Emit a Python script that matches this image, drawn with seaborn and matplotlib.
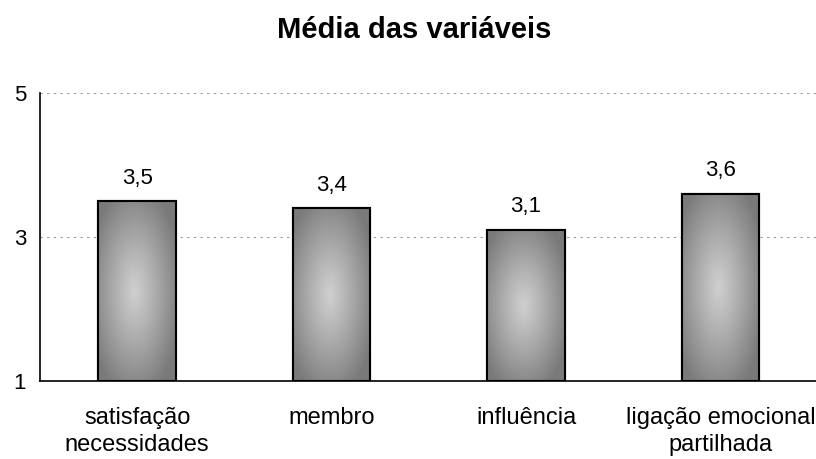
import numpy as np
import pandas as pd
import matplotlib
matplotlib.use("Agg")
import matplotlib.pyplot as plt
import seaborn as sns

categories = ["satisfação\nnecessidades", "membro", "influência", "ligação emocional\npartilhada"]
values = [3.5, 3.4, 3.1, 3.6]
value_labels = ["3,5", "3,4", "3,1", "3,6"]
yticks = [1, 3, 5]
title = "Média das variáveis"

sns.set_style("white")
plt.rcParams['font.family'] = ['Liberation Sans', 'DejaVu Sans']
plt.rcParams['text.color'] = 'black'
plt.rcParams['xtick.color'] = 'black'
plt.rcParams['ytick.color'] = 'black'

df = pd.DataFrame({"cat": categories, "val": values})

fig = plt.figure(figsize=(8.16, 4.59), dpi=100)
ax = fig.add_axes([0.049, 0.170, 0.953, 0.627])

sns.barplot(data=df, x="cat", y="val", ax=ax, width=0.4, color="#999999",
            edgecolor="black", linewidth=1.5, zorder=3)

ymin, ymax = 1, 5
ax.set_ylim(ymin, ymax)
ax.set_xlim(-0.5, 3.5)

# radial gradient fill for each bar
ny, nx = 200, 100
yy, xx = np.mgrid[0:ny, 0:nx]
cx, cy = (nx - 1) * 0.47, (ny - 1) * 0.5
r = np.sqrt(((xx - cx) / (nx * 0.6)) ** 2 + ((yy - cy) / (ny * 0.6)) ** 2)
r = np.clip(r, 0, 1)
grad = 0.81 - 0.33 * r ** 1.1
for p in list(ax.patches):
    x0 = p.get_x()
    w = p.get_width()
    top = p.get_y() + p.get_height()
    bottom = ymin
    ax.imshow(grad, cmap="gray", vmin=0, vmax=1, aspect="auto",
              extent=[x0, x0 + w, bottom, top], zorder=3.5,
              interpolation="bilinear")
    ax.add_patch(plt.Rectangle((x0, bottom), w, top - bottom, fill=False,
                               edgecolor="black", linewidth=1.5, zorder=4))
ax.set_xlim(-0.5, 3.5)
ax.set_ylim(ymin, ymax)

for i, (v, lab) in enumerate(zip(values, value_labels)):
    ax.annotate(lab, (i, v), xytext=(0, 9), textcoords="offset points",
                ha="center", va="bottom", fontsize=16, color="black")

ax.set_yticks(yticks)
ax.set_yticklabels([str(t) for t in yticks], fontsize=16)
ax.set_xticks(range(len(categories)))
ax.set_xticklabels(categories, fontsize=17, linespacing=1.3)
ax.set_xticks([0.5, 1.5, 2.5], minor=True)
ax.tick_params(axis="x", which="major", length=0, pad=19)
ax.tick_params(axis="x", which="minor", length=5, width=1, color="black", direction="out")
ax.tick_params(axis="y", which="major", length=5, width=1, color="black", direction="out", pad=5)

ax.set_xlabel("")
ax.set_ylabel("")
for t in [3, 5]:
    ax.axhline(t, color="#999999", linestyle=(0, (2, 4)), linewidth=0.8, zorder=1)

for s in ["top", "right"]:
    ax.spines[s].set_visible(False)
for s in ["left", "bottom"]:
    ax.spines[s].set_color("black")
    ax.spines[s].set_linewidth(1.2)

fig.text(0.508, 0.935, title, ha="center", va="center", fontsize=21, fontweight="bold")

fig.savefig("out.png", dpi=100)
